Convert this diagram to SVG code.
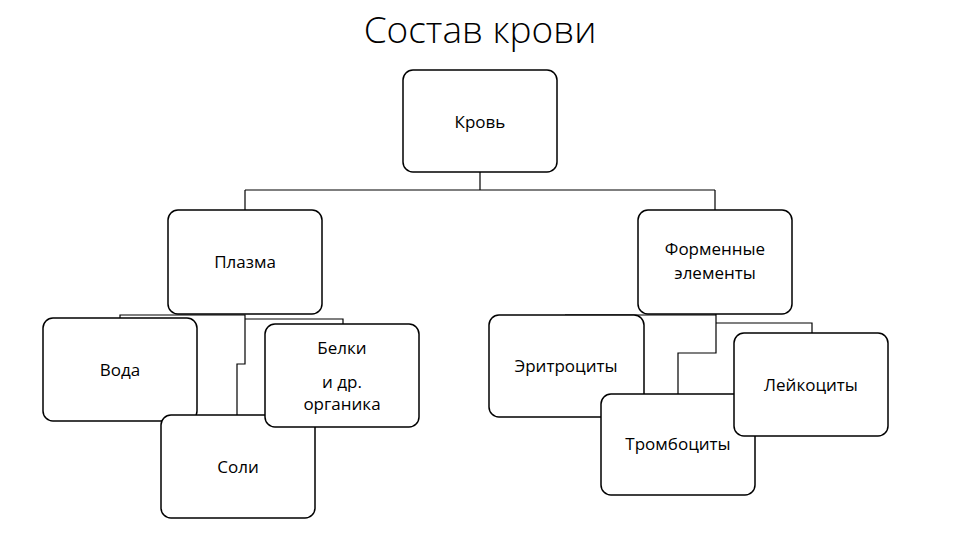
<svg xmlns="http://www.w3.org/2000/svg" width="960" height="540" viewBox="0 0 960 540">
<style>
.b{fill:#fff;stroke:#000;stroke-width:1.5}
.t{font-family:"Open Sans","Liberation Sans",sans-serif;font-size:17px;text-anchor:middle;fill:#000}
.c{fill:none;stroke:#000;stroke-width:1.2}
</style>
<rect width="960" height="540" fill="#fff"/>
<text x="480" y="43" font-family="Open Sans,Liberation Sans,sans-serif" font-weight="300" font-size="37" text-anchor="middle">Состав крови</text>
<g id="connectors" class="c">
<path d="M480 172V190M245 190H715M245 190V210M715 190V210"/>
<path d="M120 318V315H245V364H237V415M245 319H343V324"/>
<path d="M565 315H716M716 314V353H678V394M716 323H812V333"/>
</g>
<g id="krov"><rect class="b" x="403" y="70" width="154" height="102" rx="10"/><text class="t" x="480" y="128">Кровь</text></g>
<g id="plazma"><rect class="b" x="168" y="210" width="154" height="104" rx="10"/><text class="t" x="245" y="268">Плазма</text></g>
<g id="formennye"><rect class="b" x="638" y="210" width="154" height="104" rx="10"/><text class="t" x="715" y="255">Форменные</text><text class="t" x="715" y="279">элементы</text></g>
<g id="voda"><rect class="b" x="43" y="318" width="154" height="103" rx="10"/><text class="t" x="120" y="376">Вода</text></g>
<g id="soli"><rect class="b" x="161" y="415" width="154" height="103" rx="10"/><text class="t" x="238" y="473">Соли</text></g>
<g id="belki"><rect class="b" x="265" y="324" width="154" height="103" rx="10"/><text class="t" x="342" y="354">Белки</text><text class="t" x="342" y="388">и др.</text><text class="t" x="342" y="410">органика</text></g>
<g id="eritro"><rect class="b" x="489" y="315" width="155" height="102" rx="10"/><text class="t" x="566" y="372">Эритроциты</text></g>
<g id="trombo"><rect class="b" x="601" y="394" width="154" height="101" rx="10"/><text class="t" x="678" y="450">Тромбоциты</text></g>
<g id="leiko"><rect class="b" x="734" y="333" width="154" height="103" rx="10"/><text class="t" x="811" y="391">Лейкоциты</text></g>
</svg>
